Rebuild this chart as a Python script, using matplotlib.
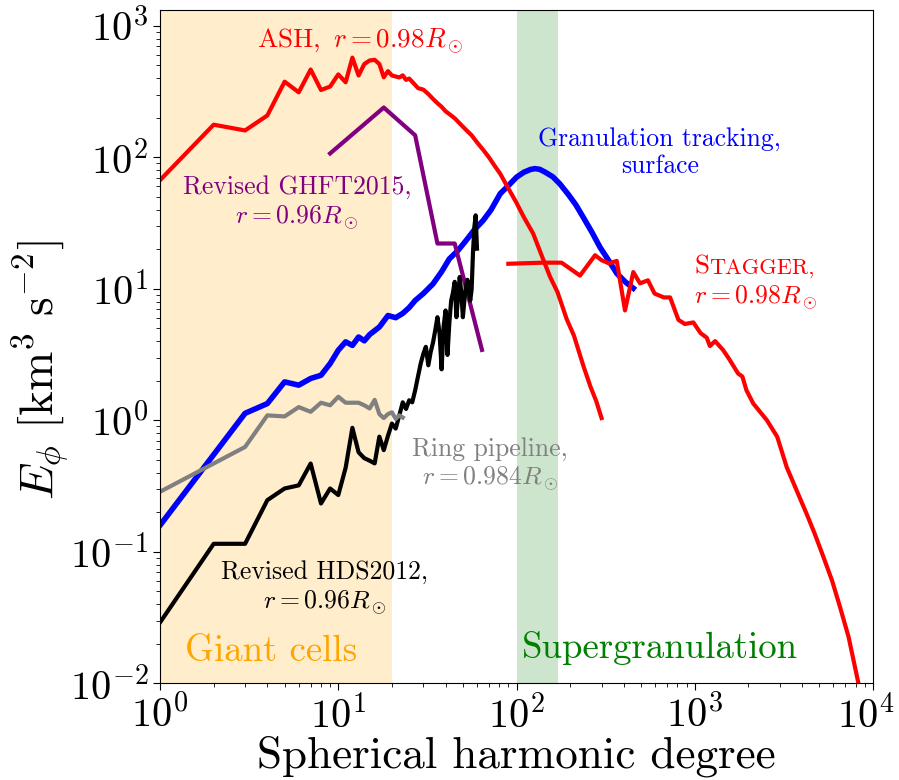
import numpy as np
import matplotlib.pyplot as plt
from matplotlib.offsetbox import TextArea, HPacker, VPacker, AnnotationBbox
from matplotlib.transforms import ScaledTranslation

plt.rcParams['font.family'] = 'serif'
plt.rcParams['font.serif'] = ['cmr10']
plt.rcParams['mathtext.fontset'] = 'cm'
plt.rcParams['axes.formatter.use_mathtext'] = True

# ASH, r = 0.98 Rsun
l_ash = [1, 2, 3, 4, 5, 6, 7, 8, 9, 10, 11, 12, 13, 14, 15, 16, 17, 18, 19, 20,
         22, 23, 24, 25, 27, 28, 30, 32, 34, 36, 38, 40, 42, 45, 48, 52, 56, 60,
         65, 70, 75, 81, 90, 100, 110, 124, 140, 154, 170, 191, 210, 237, 260, 280, 300]
e_ash = [67, 177, 160, 208, 376, 312, 465, 325, 345, 427, 372, 573, 419, 512, 545, 551, 512, 406, 452, 419,
         405, 420, 388, 397, 355, 336, 327, 303, 278, 258, 242, 224, 213, 198, 181, 162, 147, 130,
         114, 100, 87, 75, 58, 45, 35, 26.3, 17.2, 12.4, 9.4, 5.9, 4.4, 2.6, 1.8, 1.4, 1.04]

# Stagger, r = 0.98 Rsun
l_stag = [90, 141, 179, 227, 276, 300, 330, 365, 406, 452, 493, 546, 595, 670, 727, 810, 880, 982,
          1078, 1167, 1216, 1300, 1440, 1550, 1750, 1850, 1950, 2130, 2300, 2540, 2900, 3280, 3700,
          4250, 4700, 5260, 5900, 6530, 7300, 8280, 8600]
e_stag = [15.5, 15.8, 15.8, 12.6, 18.0, 16.5, 15.6, 16.3, 6.85, 13.4, 11.0, 11.6, 9.2, 8.6, 8.6, 5.8, 5.4, 5.55,
          4.6, 4.25, 3.67, 4.0, 3.43, 2.96, 2.27, 2.15, 1.69, 1.34, 1.18, 1.0, 0.75, 0.44, 0.30,
          0.193, 0.138, 0.092, 0.060, 0.038, 0.0224, 0.01, 0.008]

# Granulation tracking, surface
l_gran = [1, 3, 4, 5, 6, 7, 8, 9, 10, 11, 12, 13, 14, 15, 17, 19, 21, 23, 25, 27, 30, 34, 38, 42,
          47, 52, 58, 65, 72, 81, 90, 100, 110, 120, 127, 135, 145, 160, 175, 195, 215, 237, 265,
          294, 330, 365, 410, 452]
e_gran = [0.159, 1.13, 1.34, 1.96, 1.85, 2.08, 2.2, 2.7, 3.41, 3.95, 3.71, 4.3, 4.02, 4.49, 5.12, 6.26,
          6.03, 6.5, 7.2, 8.15, 9.2, 10.9, 13.5, 16.9, 19.6, 23.2, 28.1, 33.1, 39.9, 52.9, 60.9, 70.6, 77, 80.9,
          82, 81, 77, 71, 62.8, 52.3, 43.6, 34.9, 26.9, 20.7, 16.3, 13.1, 11.2, 10.1]

# Revised GHFT2015, r = 0.96 Rsun
l_ghft = [9, 18, 27, 36, 45, 64]
e_ghft = [107, 239, 147, 22.1, 22.1, 3.43]

# Ring pipeline, r = 0.984 Rsun
l_ring = [1, 3, 4, 5, 6, 7, 8, 9, 10, 11, 12, 13, 14, 15, 16, 17, 18, 19, 20, 21, 22, 23]
e_ring = [0.286, 0.627, 1.09, 1.07, 1.26, 1.16, 1.36, 1.3, 1.51, 1.36, 1.36, 1.36, 1.3, 1.23,
          1.43, 1.115, 1.04, 1.115, 1.15, 1.025, 1.09, 1.05]

# Revised HDS2012, r = 0.96 Rsun
l_hds = list(range(1, 61))
e_hds = [0.029, 0.115, 0.115, 0.247, 0.303, 0.32, 0.469, 0.233, 0.303, 0.27,
         0.436, 0.876, 0.571, 0.515, 0.493, 0.47, 0.751, 0.593, 0.762, 0.944,
         0.865, 1.09, 1.37, 1.22, 1.42, 1.37, 1.69, 2.15, 2.7, 3.2,
         3.62, 2.62, 3.31, 3.9, 4.84, 6.08, 4.61, 2.44, 5.19, 6.84,
         3.14, 5.55, 8.15, 9.35, 11.3, 6.08, 8.76, 12.3, 9.35, 6.08,
         8.15, 10.5, 11.7, 9.9, 8.15, 9.9, 19, 29.4, 36.2, 20.2]

giant_range = (1, 20)
super_range = (100, 170)

fig = plt.figure(figsize=(8.99, 7.8), dpi=100)
ax = fig.add_axes([0.178, 0.124, 0.7931, 0.8628])

ax.axvspan(*giant_range, color='orange', alpha=0.2, lw=0)
ax.axvspan(*super_range, color='green', alpha=0.2, lw=0)

ax.plot(l_gran, e_gran, color='blue', lw=4)
ax.plot(l_ash, e_ash, color='red', lw=3)
ax.plot(l_stag, e_stag, color='red', lw=3)
ax.plot(l_ghft, e_ghft, color='purple', lw=3)
ax.plot(l_hds, e_hds, color='black', lw=3)
ax.plot(l_ring, e_ring, color='gray', lw=3)

ax.set_xscale('log')
ax.set_yscale('log')
ax.set_xlim(1, 1e4)
ax.set_ylim(1e-2, 1312)

ax.set_xlabel('Spherical harmonic degree', fontsize=32.5, labelpad=0)
ax.set_ylabel(r'$E_\phi\ [\mathrm{km}^3\ \mathrm{s}^{-2}]$', fontsize=34)
ax.yaxis.set_label_coords(-0.125, 0.465)
ax.tick_params(which='major', labelsize=29, length=5)
ax.tick_params(which='minor', length=3)

fs = 18.5
ax.text(0.2805, 0.945, r'ASH, $\,r = 0.98R_\odot$', color='red', fontsize=19.5,
        ha='center', va='baseline', transform=ax.transAxes)
ax.text(0.192, 0.713, 'Revised GHFT2015,\n' + r'$r = 0.96R_\odot$', color='purple', fontsize=fs,
        ha='center', va='center', multialignment='center', transform=ax.transAxes)
ax.text(0.701, 0.789, 'Granulation tracking,\nsurface', color='blue', fontsize=fs,
        ha='center', va='center', multialignment='center', transform=ax.transAxes)
ax.text(0.463, 0.324, 'Ring pipeline,\n' + r'$r = 0.984R_\odot$', color='gray', fontsize=fs,
        ha='center', va='center', multialignment='center', transform=ax.transAxes)
ax.text(0.231, 0.141, 'Revised HDS2012,\n' + r'$r = 0.96R_\odot$', color='black', fontsize=fs,
        ha='center', va='center', multialignment='center', transform=ax.transAxes)
ax.text(0.156, 0.033, 'Giant cells', color='orange', fontsize=26.5,
        ha='center', va='baseline', transform=ax.transAxes)
ax.text(0.701, 0.037, 'Supergranulation', color='green', fontsize=26.5,
        ha='center', va='baseline', transform=ax.transAxes)

# Stagger label with small caps
sc_line = HPacker(children=[TextArea('S', textprops=dict(color='red', fontsize=19.5)),
                            TextArea('TAGGER,', textprops=dict(color='red', fontsize=16))],
                  align='baseline', pad=0, sep=0)
sc_block = VPacker(children=[sc_line,
                             TextArea(r'$r = 0.98R_\odot$', textprops=dict(color='red', fontsize=fs))],
                   align='left', pad=0, sep=4)
ab = AnnotationBbox(sc_block, (0.749, 0.594), xycoords='axes fraction',
                    box_alignment=(0, 0.5), frameon=False)
ax.add_artist(ab)

# nudge the 10^4 label a little left so it stays inside the figure
fig.canvas.draw()
for tick in ax.xaxis.get_major_ticks():
    if np.isclose(tick.get_loc(), 1e4):
        lab = tick.label1
        lab.set_transform(lab.get_transform() + ScaledTranslation(-5 / 72, 0, fig.dpi_scale_trans))

fig.savefig('out.png', dpi=100)
